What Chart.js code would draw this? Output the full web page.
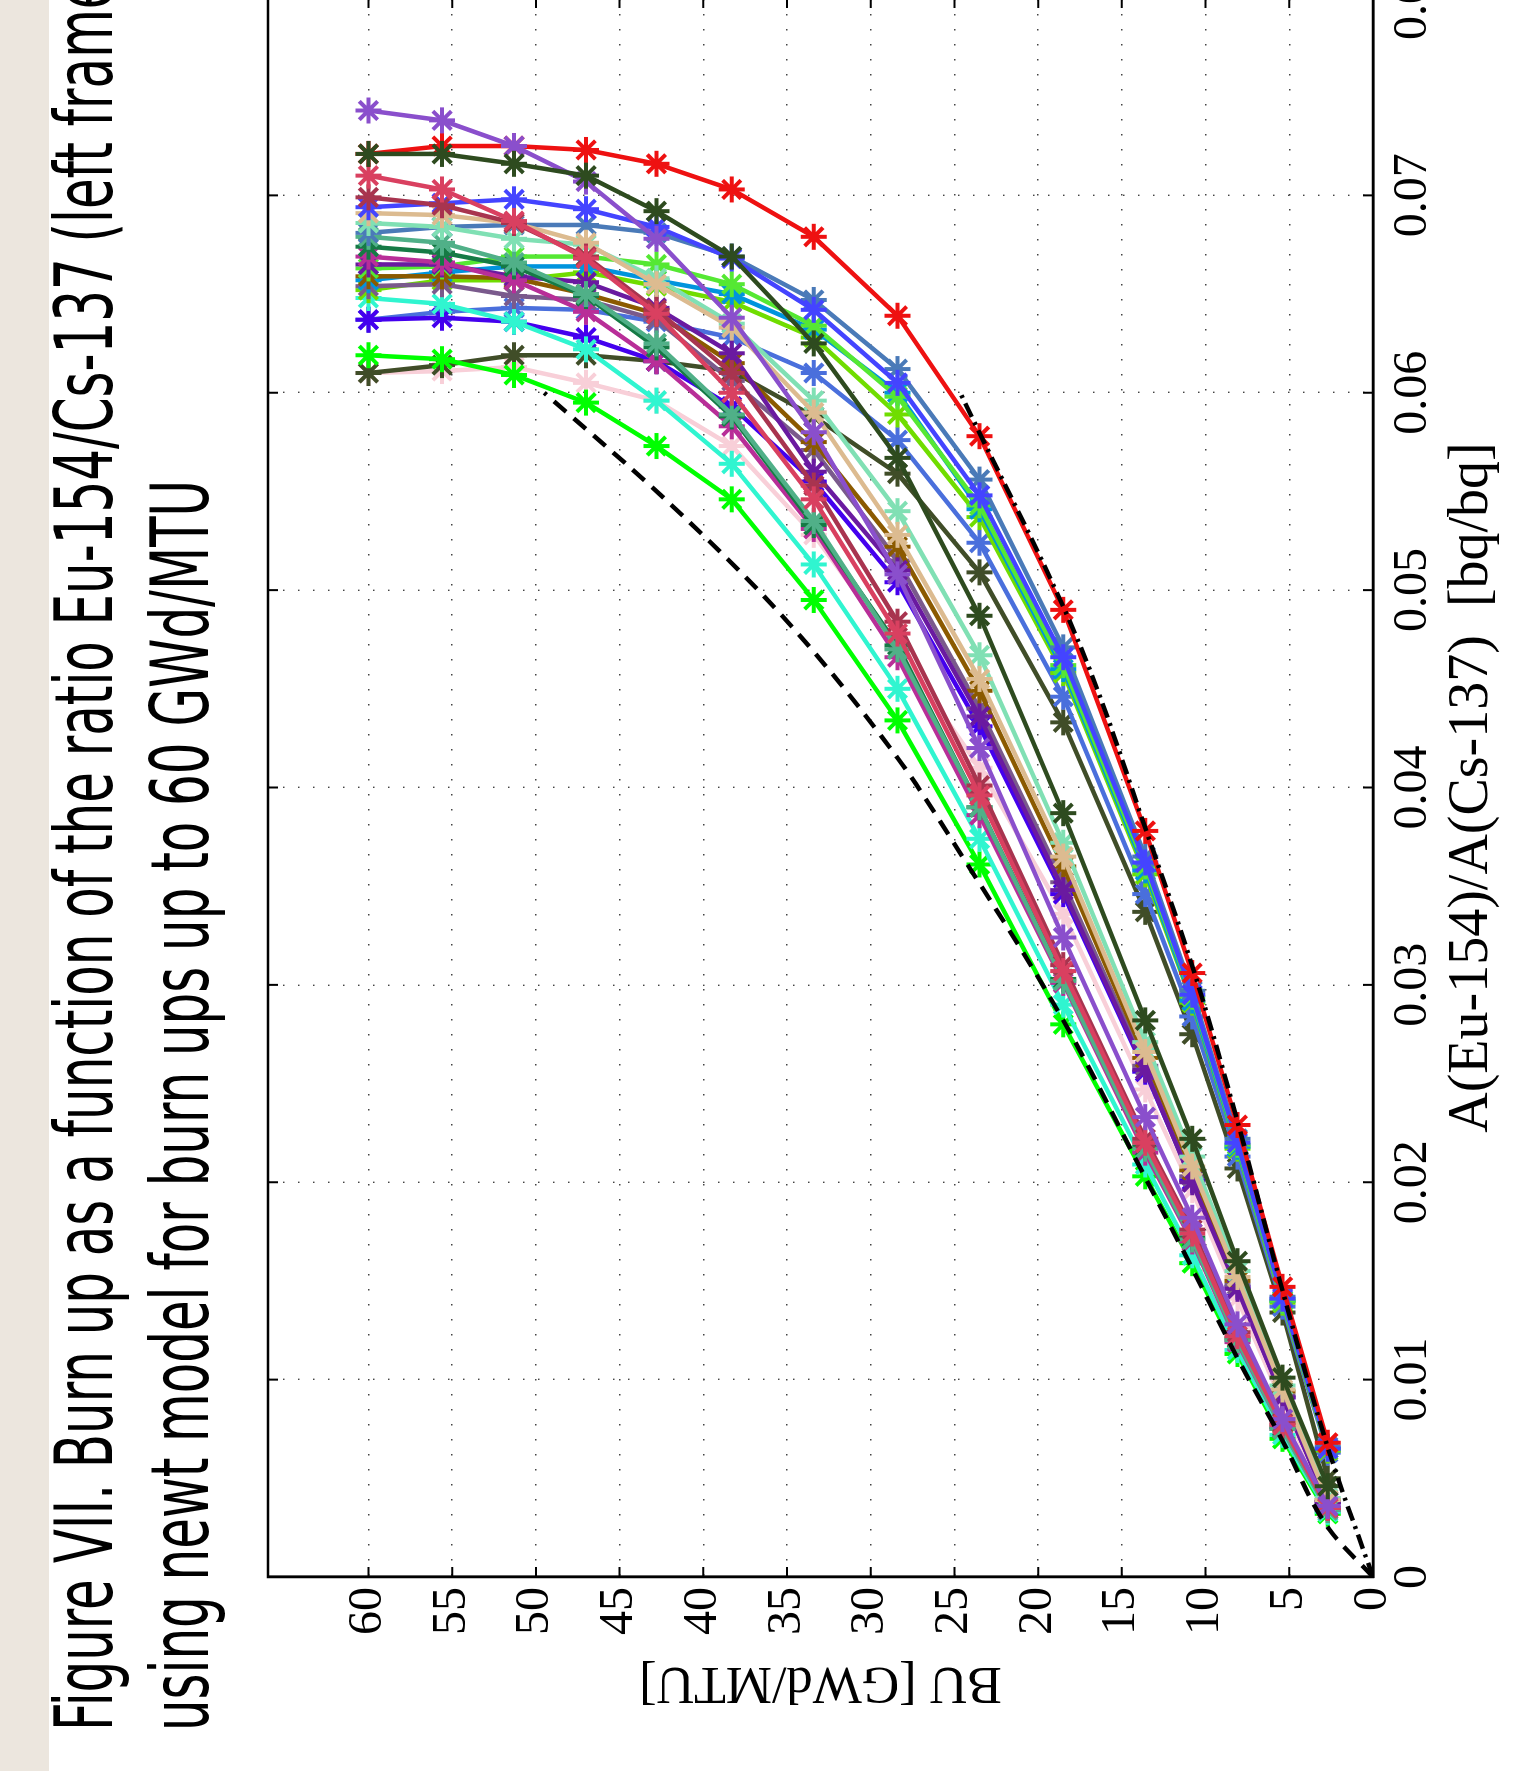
<!DOCTYPE html>
<html>
<head>
<meta charset="utf-8">
<script src="https://cdn.jsdelivr.net/npm/chart.js@4.4.0/dist/chart.umd.min.js"></script>
<style>
    html, body { margin: 0; padding: 0; background: #fff; }
    body { width: 1523px; height: 1771px; overflow: hidden; position: relative; }
    /* the figure is laid out upright, then turned a quarter to the left */
    #page {
        position: absolute; left: 0; top: 0;
        width: 1771px; height: 1523px; overflow: hidden; background: #fff;
        transform-origin: 0 0;
        transform: translate(0px, 1771px) rotate(-90deg);
    }
    #strip { position: absolute; left: 0; top: 0; width: 1771px; height: 49px; background: #ece6de; }
    .cap {
        position: absolute; left: 40px;
        font-family: "DejaVu Sans Condensed", "DejaVu Sans", sans-serif;
        font-stretch: condensed;
        font-size: 80px; line-height: 80px;
        white-space: nowrap; color: #000;
        transform-origin: 0 0;
    }
    #cap1 { top: 45px; }
    #cap2 { top: 141px; }
    #burnupChart { position: absolute; left: 0; top: 0; }
</style>
</head>
<body>
<div id="page">
    <div id="strip"></div>
    <div class="cap" id="cap1">Figure VII. Burn up as a function of the ratio Eu-154/Cs-137 (left frame)</div>
    <div class="cap" id="cap2">using newt model for burn ups up to 60 GWd/MTU</div>
    <canvas id="burnupChart" width="1900" height="1523"></canvas>
</div>
<script>
// burn up steps (GWd/MTU) shared by every case
const buPoints = [2.7, 5.4, 8.1, 10.8, 13.6, 18.5, 23.5, 28.4, 33.4, 38.3, 42.8, 47.0, 51.3, 55.6, 60.0];
const buTicks = [0, 5, 10, 15, 20, 25, 30, 35, 40, 45, 50, 55, 60];
const ratioTicks = [0, 0.01, 0.02, 0.03, 0.04, 0.05, 0.06, 0.07, 0.08];

// A(Eu-154)/A(Cs-137) for each case, same order as buPoints
const redRatio        = [0.0068, 0.0147, 0.0229, 0.0306, 0.0378, 0.0490, 0.0578, 0.0639, 0.0679, 0.0703, 0.0716, 0.0723, 0.0725, 0.0725, 0.0721];
const darkGreenRatio  = [0.0046, 0.0101, 0.0160, 0.0222, 0.0282, 0.0387, 0.0487, 0.0567, 0.0625, 0.0669, 0.0692, 0.0710, 0.0716, 0.0721, 0.0721];
const purpleRatio     = [0.0036, 0.0080, 0.0128, 0.0182, 0.0233, 0.0324, 0.0420, 0.0508, 0.0580, 0.0638, 0.0678, 0.0707, 0.0725, 0.0738, 0.0743];
const crimsonRatio    = [0.0035, 0.0077, 0.0122, 0.0174, 0.0220, 0.0307, 0.0396, 0.0478, 0.0546, 0.0600, 0.0640, 0.0668, 0.0687, 0.0703, 0.0710];
const maroonRatio     = [0.0035, 0.0078, 0.0124, 0.0176, 0.0222, 0.0310, 0.0401, 0.0484, 0.0553, 0.0610, 0.0642, 0.0669, 0.0686, 0.0695, 0.0699];
const blueRatio       = [0.0065, 0.0141, 0.0220, 0.0295, 0.0362, 0.0466, 0.0548, 0.0605, 0.0642, 0.0668, 0.0684, 0.0693, 0.0698, 0.0696, 0.0694];
const tanRatio        = [0.0039, 0.0095, 0.0152, 0.0208, 0.0266, 0.0365, 0.0455, 0.0528, 0.0590, 0.0633, 0.0655, 0.0676, 0.0686, 0.0690, 0.0691];
const aquaRatio       = [0.0040, 0.0097, 0.0155, 0.0213, 0.0271, 0.0372, 0.0467, 0.0540, 0.0596, 0.0635, 0.0658, 0.0675, 0.0678, 0.0684, 0.0686];
const steelBlueRatio  = [0.0066, 0.0142, 0.0222, 0.0297, 0.0365, 0.0471, 0.0556, 0.0612, 0.0647, 0.0669, 0.0681, 0.0685, 0.0685, 0.0684, 0.0681];
const seaGreenRatio   = [0.0034, 0.0075, 0.0120, 0.0171, 0.0217, 0.0302, 0.0390, 0.0470, 0.0535, 0.0589, 0.0625, 0.0650, 0.0666, 0.0676, 0.0679];
const forestRatio     = [0.0035, 0.0076, 0.0121, 0.0172, 0.0218, 0.0303, 0.0390, 0.0472, 0.0533, 0.0588, 0.0623, 0.0649, 0.0664, 0.0671, 0.0674];
const magentaRatio    = [0.0034, 0.0075, 0.0119, 0.0170, 0.0215, 0.0301, 0.0386, 0.0466, 0.0531, 0.0583, 0.0616, 0.0641, 0.0657, 0.0666, 0.0669];
const darkVioletRatio = [0.0038, 0.0091, 0.0146, 0.0200, 0.0257, 0.0348, 0.0436, 0.0510, 0.0560, 0.0620, 0.0643, 0.0656, 0.0659, 0.0665, 0.0665];
const lightGreenRatio = [0.0065, 0.0140, 0.0219, 0.0294, 0.0360, 0.0462, 0.0543, 0.0598, 0.0634, 0.0655, 0.0665, 0.0669, 0.0669, 0.0664, 0.0663];
const brownRatio      = [0.0039, 0.0094, 0.0150, 0.0206, 0.0263, 0.0360, 0.0449, 0.0522, 0.0575, 0.0615, 0.0640, 0.0650, 0.0658, 0.0659, 0.0659];
const skyBlueRatio    = [0.0065, 0.0140, 0.0218, 0.0292, 0.0358, 0.0460, 0.0541, 0.0600, 0.0632, 0.0650, 0.0657, 0.0664, 0.0664, 0.0661, 0.0657];
const greyPurpleRatio = [0.0038, 0.0092, 0.0148, 0.0203, 0.0259, 0.0352, 0.0440, 0.0515, 0.0571, 0.0606, 0.0637, 0.0647, 0.0649, 0.0655, 0.0654];
const chartreuseRatio = [0.0064, 0.0139, 0.0217, 0.0291, 0.0356, 0.0458, 0.0537, 0.0589, 0.0628, 0.0646, 0.0654, 0.0661, 0.0657, 0.0657, 0.0652];
const turquoiseRatio  = [0.0033, 0.0072, 0.0115, 0.0163, 0.0209, 0.0290, 0.0374, 0.0450, 0.0513, 0.0564, 0.0596, 0.0622, 0.0636, 0.0645, 0.0648];
const blueVioletRatio = [0.0038, 0.0091, 0.0147, 0.0201, 0.0256, 0.0346, 0.0431, 0.0504, 0.0555, 0.0593, 0.0616, 0.0628, 0.0636, 0.0638, 0.0637];
const royalBlueRatio  = [0.0063, 0.0137, 0.0213, 0.0284, 0.0346, 0.0446, 0.0524, 0.0576, 0.0610, 0.0628, 0.0636, 0.0642, 0.0643, 0.0641, 0.0637];
const limeRatio       = [0.0032, 0.0070, 0.0113, 0.0159, 0.0203, 0.0280, 0.0361, 0.0434, 0.0495, 0.0546, 0.0573, 0.0595, 0.0609, 0.0617, 0.0619];
const darkOliveRatio  = [0.0050, 0.0134, 0.0207, 0.0275, 0.0337, 0.0433, 0.0509, 0.0559, 0.0588, 0.0611, 0.0616, 0.0619, 0.0619, 0.0614, 0.0610];
const pinkRatio       = [0.0037, 0.0088, 0.0141, 0.0196, 0.0247, 0.0336, 0.0410, 0.0470, 0.0528, 0.0573, 0.0596, 0.0605, 0.0613, 0.0611, 0.0610];

const caseRatios = [darkGreenRatio, purpleRatio, redRatio, crimsonRatio, maroonRatio, blueRatio, tanRatio, aquaRatio,
    steelBlueRatio, seaGreenRatio, forestRatio, magentaRatio, darkVioletRatio, lightGreenRatio, brownRatio, skyBlueRatio,
    greyPurpleRatio, chartreuseRatio, turquoiseRatio, blueVioletRatio, royalBlueRatio, limeRatio, darkOliveRatio, pinkRatio];
const caseColors = ['#2e4b1f', '#8a4fcc', '#ee1111', '#d94060', '#a8344f', '#4444ff', '#dcbb90', '#80e0b4',
    '#4a7ab8', '#50b088', '#157a45', '#b82e98', '#6a1aa0', '#55e833', '#8b5a00', '#0094dd',
    '#7a5a8c', '#70dd00', '#30f5d0', '#4400ee', '#4a6fdc', '#00ff00', '#404d28', '#f8cfd8'];

// black bounding curves (dashed lower, dash-dot upper)
const lowerBoundBu    = [0, 2.6, 5.4, 8.1, 10.9, 13.7, 18.7, 24.6, 28.4, 35.4, 42.4, 49.5];
const lowerBoundRatio = [0, 0.0024, 0.0069, 0.0111, 0.0158, 0.0204, 0.0285, 0.0366, 0.0415, 0.0488, 0.0547, 0.0600];
const upperBoundBu    = [0, 2.6, 5.4, 8.1, 10.7, 13.5, 17.5, 24.6];
const upperBoundRatio = [0, 0.0063, 0.0145, 0.0231, 0.0307, 0.0377, 0.0472, 0.0599];

// caption squeezed to the width of the condensed typeface in the figure
const cap2 = document.getElementById('cap2');
const capScale = 1251 / cap2.offsetWidth;
document.querySelectorAll('.cap').forEach(el => { el.style.transform = `scaleX(${capScale})`; });

const datasets = [
    {
        label: 'lower', data: lowerBoundBu.map((b, i) => ({x: lowerBoundRatio[i], y: b})),
        showLine: true, borderColor: '#000', borderWidth: 4.5, borderDash: [16, 10],
        pointRadius: 0, cubicInterpolationMode: 'monotone', order: 0
    },
    {
        label: 'upper', data: upperBoundBu.map((b, i) => ({x: upperBoundRatio[i], y: b})),
        showLine: true, borderColor: '#000', borderWidth: 4.5, borderDash: [15, 6, 3, 6],
        pointRadius: 0, cubicInterpolationMode: 'monotone', order: 0
    }
];
caseRatios.forEach((vals, k) => {
    datasets.push({
        label: 'case ' + (k + 1),
        data: buPoints.map((b, i) => ({x: vals[i], y: b})),
        showLine: true,
        borderColor: caseColors[k],
        backgroundColor: caseColors[k],
        borderWidth: 4.5,
        pointStyle: 'star',
        pointRadius: 13,
        pointHoverRadius: 13,
        pointBorderWidth: 4,
        order: 1
    });
});

// box round the plot with short inward ticks on every side
const frameTicks = {
    id: 'frameTicks',
    afterDraw(chart) {
        const {ctx, chartArea: a, scales: {x, y}} = chart;
        ctx.save();
        ctx.strokeStyle = '#000';
        ctx.lineWidth = 2.5;
        ctx.strokeRect(a.left, a.top, a.right - a.left, a.bottom - a.top);
        ctx.lineWidth = 2;
        ctx.beginPath();
        ratioTicks.forEach(v => {
            const px = x.getPixelForValue(v);
            ctx.moveTo(px, a.bottom); ctx.lineTo(px, a.bottom - 10);
            ctx.moveTo(px, a.top); ctx.lineTo(px, a.top + 10);
        });
        buTicks.forEach(v => {
            const py = y.getPixelForValue(v);
            ctx.moveTo(a.left, py); ctx.lineTo(a.left + 10, py);
            ctx.moveTo(a.right, py); ctx.lineTo(a.right - 10, py);
        });
        ctx.stroke();
        ctx.restore();
    }
};

const ctx = document.getElementById('burnupChart').getContext('2d');
new Chart(ctx, {
    type: 'scatter',
    data: { datasets: datasets },
    options: {
        responsive: false,
        animation: false,
        layout: { padding: { top: 268, left: 44, right: 127, bottom: 0 } },
        plugins: {
            legend: { display: false },
            tooltip: { enabled: false }
        },
        scales: {
            x: {
                type: 'linear', position: 'bottom', min: 0, max: 0.08,
                afterBuildTicks: (s) => { s.ticks = ratioTicks.map(v => ({value: v})); },
                afterFit: (s) => { s.height = 150; },
                grid: { color: '#444', lineWidth: 1.4, drawTicks: false },
                border: { display: true, color: '#000', width: 2.5, dash: [1.5, 13.5] },
                ticks: {
                    autoSkip: false, maxRotation: 0, padding: 12, color: '#000',
                    font: { family: 'Liberation Serif', size: 48 },
                    callback: (v) => v === 0 ? '0' : v.toFixed(2)
                },
                title: {
                    display: true, text: 'A(Eu-154)/A(Cs-137)  [bq/bq]', color: '#000',
                    font: { family: 'Liberation Serif', size: 56 },
                    padding: { top: 0, bottom: 17 }
                }
            },
            y: {
                type: 'linear', position: 'left', min: 0, max: 66,
                afterBuildTicks: (s) => { s.ticks = buTicks.map(v => ({value: v})); },
                afterFit: (s) => { s.width = 150; },
                grid: { color: '#444', lineWidth: 1.4, drawTicks: false },
                border: { display: true, color: '#000', width: 2.5, dash: [1.5, 13.5] },
                ticks: {
                    autoSkip: false, padding: 10, color: '#000',
                    font: { family: 'Liberation Serif', size: 48 }
                },
                title: {
                    display: true, text: 'BU [GWd/MTU]', color: '#000',
                    font: { family: 'Liberation Serif', size: 52 },
                    padding: { top: 14, bottom: 0 }
                }
            }
        }
    },
    plugins: [frameTicks]
});
</script>
</body>
</html>
